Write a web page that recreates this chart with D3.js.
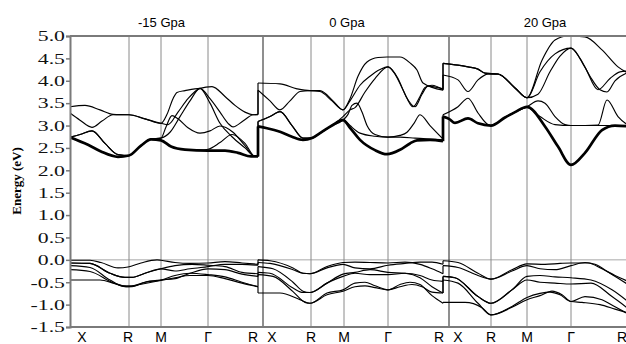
<!DOCTYPE html>
<html>
<head>
<meta charset="utf-8">
<script src="https://cdn.jsdelivr.net/npm/d3@7"></script>
<style>
  body { margin: 0; background: #fff; }
  svg { display: block; }
</style>
</head>
<body>
<svg width="626" height="344"></svg>
<script>
// panel titles and their centre along the k-path
const pressures = ['-15 Gpa', '0 Gpa', '20 Gpa'];
const titleK = [0.915, 2.77, 4.75];

const yTicks = [5.0, 4.5, 4.0, 3.5, 3.0, 2.5, 2.0, 1.5, 1.0, 0.5, 0.0, -0.5, -1.0, -1.5];

// high symmetry lines (k-path distance), panel separators drawn darker
const gridK = [0.59, 0.91, 1.38, 2.41, 2.74, 3.18, 4.21, 4.57, 5.01];
const boundaryK = [1.93, 3.79];
const kLabels = ['X', 'R', 'M', 'Γ', 'R', 'X', 'R', 'M', 'Γ', 'R', 'X', 'R', 'M', 'Γ', 'R'];
const kLabelPos = [0.12, 0.58, 0.91, 1.38, 1.83, 2.02, 2.41, 2.74, 3.18, 3.69, 3.88, 4.21, 4.57, 5.01, 5.52];

// conduction bands, [k, E(eV)]; first band of each panel is the thick lowest one
const cond15 = [
  [[0,2.74],[0.18,2.57],[0.31,2.42],[0.48,2.30],[0.59,2.33],[0.71,2.55],[0.81,2.69],[0.91,2.67],[1.01,2.53],[1.15,2.46],[1.38,2.44],[1.55,2.44],[1.68,2.39],[1.81,2.31],[1.88,2.31]],
  [[0,2.74],[0.10,2.80],[0.22,2.88],[0.35,2.60],[0.48,2.35],[0.59,2.33],[0.71,2.55],[0.81,2.70],[0.91,2.72],[1.00,2.85],[1.10,3.20],[1.20,3.55],[1.30,3.83],[1.40,3.60],[1.50,3.30],[1.58,3.05],[1.63,2.97],[1.73,3.10],[1.83,3.24],[1.88,3.25]],
  [[0,3.28],[0.10,3.12],[0.22,2.96],[0.32,3.10],[0.43,3.24],[0.59,3.24],[0.75,3.15],[0.91,3.05],[0.98,3.02],[1.08,3.30],[1.18,3.60],[1.30,3.83],[1.42,3.87],[1.55,3.65],[1.65,3.45],[1.75,3.30],[1.83,3.24],[1.88,3.24]],
  [[0,3.42],[0.15,3.45],[0.30,3.35],[0.43,3.25],[0.59,3.24],[0.75,3.15],[0.91,3.05],[0.97,3.25],[1.03,3.60],[1.07,3.74],[1.15,3.78],[1.30,3.83],[1.40,3.50],[1.50,3.05],[1.62,2.75],[1.75,2.50],[1.85,2.31],[1.88,2.31]],
  [[0,2.74],[0.10,2.80],[0.22,2.88],[0.35,2.60],[0.48,2.35],[0.59,2.33],[0.71,2.55],[0.81,2.70],[0.91,2.72],[0.96,2.97],[1.02,3.22],[1.08,3.15],[1.18,2.95],[1.30,2.83],[1.40,2.88],[1.50,2.99],[1.63,2.85],[1.75,2.55],[1.85,2.31],[1.88,2.31]],
  [[0,2.74],[0.18,2.57],[0.31,2.42],[0.48,2.30],[0.59,2.33],[0.71,2.55],[0.81,2.69],[0.91,2.67],[1.01,2.53],[1.15,2.46],[1.30,2.45],[1.38,2.47],[1.50,2.62],[1.62,2.80],[1.75,2.60],[1.85,2.31],[1.88,2.31]]
];
const cond0 = [
  [[1.88,2.98],[1.97,2.94],[2.10,2.86],[2.22,2.75],[2.33,2.68],[2.42,2.72],[2.50,2.83],[2.62,3.00],[2.73,3.12],[2.80,2.95],[2.90,2.68],[3.05,2.45],[3.17,2.36],[3.30,2.46],[3.40,2.60],[3.47,2.67],[3.60,2.68],[3.73,2.65]],
  [[1.88,3.09],[2.00,3.20],[2.10,3.31],[2.22,3.00],[2.33,2.72],[2.42,2.72],[2.50,2.83],[2.62,3.00],[2.73,3.14],[2.80,3.00],[2.90,2.83],[3.05,2.76],[3.18,2.74],[3.30,2.78],[3.37,2.85],[3.44,3.05],[3.50,3.24],[3.60,3.00],[3.73,2.70]],
  [[1.88,3.79],[2.00,3.55],[2.10,3.35],[2.20,3.55],[2.30,3.76],[2.40,3.78],[2.50,3.76],[2.62,3.55],[2.73,3.35],[2.80,3.55],[2.90,3.90],[3.00,4.10],[3.10,4.25],[3.18,4.31],[3.25,4.15],[3.33,3.80],[3.43,3.42],[3.50,3.65],[3.55,3.85],[3.62,3.90],[3.73,3.80]],
  [[1.88,3.95],[2.10,3.93],[2.27,3.82],[2.40,3.78],[2.50,3.78],[2.63,3.55],[2.73,3.35],[2.80,3.60],[2.88,4.10],[2.97,4.42],[3.08,4.52],[3.17,4.53],[3.30,4.53],[3.40,4.40],[3.47,4.24],[3.53,3.95],[3.73,3.79]],
  [[1.88,3.09],[2.00,3.20],[2.10,3.31],[2.22,3.00],[2.33,2.72],[2.42,2.72],[2.50,2.83],[2.62,3.00],[2.73,3.20],[2.80,3.35],[2.85,3.40],[2.95,3.75],[3.05,4.05],[3.18,4.31],[3.28,4.05],[3.36,3.65],[3.45,3.42],[3.52,3.70],[3.58,3.88],[3.73,3.82]],
  [[1.88,2.98],[1.97,2.94],[2.10,2.86],[2.22,2.75],[2.33,2.68],[2.42,2.72],[2.50,2.83],[2.62,3.00],[2.73,3.12],[2.78,3.25],[2.82,3.45],[2.87,3.50],[2.92,3.30],[2.97,3.00],[3.05,2.80],[3.18,2.74],[3.30,2.74],[3.45,2.72],[3.60,2.70],[3.73,2.68]]
];
const cond20 = [
  [[3.73,3.20],[3.79,3.15],[3.85,3.06],[3.98,3.16],[4.08,3.05],[4.21,3.00],[4.35,3.18],[4.45,3.30],[4.57,3.42],[4.75,2.98],[4.88,2.53],[5.01,2.12],[5.15,2.39],[5.32,2.90],[5.45,3.00],[5.60,2.98]],
  [[3.73,3.24],[3.88,3.42],[3.98,3.61],[4.08,3.28],[4.18,3.02],[4.21,3.00],[4.35,3.18],[4.45,3.30],[4.57,3.40],[4.70,3.20],[4.85,3.02],[5.01,3.00],[5.15,3.00],[5.28,3.01],[5.37,3.57],[5.48,3.20],[5.60,2.98]],
  [[3.73,4.13],[3.88,4.02],[3.98,3.76],[4.08,4.02],[4.18,4.15],[4.28,4.15],[4.45,3.84],[4.57,3.62],[4.70,4.20],[4.85,4.60],[5.01,4.73],[5.15,4.30],[5.28,3.80],[5.40,4.05],[5.50,4.20],[5.60,4.22]],
  [[3.73,4.39],[3.88,4.35],[3.98,4.31],[4.08,4.26],[4.15,4.17],[4.28,4.15],[4.45,3.84],[4.57,3.62],[4.72,4.46],[4.85,4.91],[4.98,5.00],[5.15,4.98],[5.32,4.69],[5.48,4.31],[5.60,4.15]],
  [[3.73,4.39],[3.88,4.35],[3.98,4.31],[4.08,4.26],[4.15,4.17],[4.28,4.15],[4.45,3.84],[4.57,3.62],[4.68,3.70],[4.80,4.20],[4.90,4.55],[5.01,4.73],[5.10,4.50],[5.20,4.10],[5.30,3.80],[5.37,3.75],[5.45,4.00],[5.60,4.20]],
  [[3.73,3.20],[3.79,3.15],[3.85,3.06],[3.98,3.16],[4.08,3.05],[4.21,3.00],[4.35,3.18],[4.45,3.30],[4.57,3.42],[4.68,3.55],[4.75,3.50],[4.85,3.20],[4.95,3.02],[5.01,3.00],[5.20,3.00],[5.35,3.00],[5.45,3.00],[5.60,2.98]]
];

// valence bands
const val15 = [
  [[0,-0.01],[0.20,-0.01],[0.31,-0.06],[0.48,-0.18],[0.58,-0.16],[0.71,-0.07],[0.87,0.00],[0.91,-0.01],[1.05,-0.06],[1.20,-0.08],[1.38,-0.07],[1.55,-0.04],[1.72,-0.07],[1.88,-0.10]],
  [[0,-0.07],[0.20,-0.08],[0.40,-0.30],[0.55,-0.39],[0.62,-0.39],[0.75,-0.30],[0.91,-0.20],[1.05,-0.13],[1.22,-0.10],[1.38,-0.12],[1.55,-0.15],[1.72,-0.28],[1.88,-0.31]],
  [[0,-0.13],[0.20,-0.17],[0.40,-0.45],[0.53,-0.58],[0.62,-0.58],[0.75,-0.50],[0.91,-0.45],[1.05,-0.35],[1.20,-0.30],[1.38,-0.33],[1.55,-0.38],[1.72,-0.50],[1.88,-0.60]],
  [[0,-0.22],[0.20,-0.26],[0.42,-0.50],[0.55,-0.60],[0.62,-0.60],[0.75,-0.50],[0.91,-0.45],[1.05,-0.42],[1.20,-0.30],[1.38,-0.20],[1.55,-0.22],[1.72,-0.32],[1.88,-0.37]],
  [[0,-0.45],[0.30,-0.45],[0.45,-0.53],[0.58,-0.60],[0.70,-0.55],[0.91,-0.46],[1.05,-0.40],[1.20,-0.35],[1.38,-0.35],[1.55,-0.42],[1.72,-0.52],[1.88,-0.60]],
  [[0,-0.07],[0.20,-0.08],[0.40,-0.30],[0.55,-0.39],[0.62,-0.39],[0.75,-0.30],[0.91,-0.20],[1.05,-0.25],[1.20,-0.20],[1.38,-0.15],[1.55,-0.10],[1.72,-0.10],[1.88,-0.12]]
];
const val0 = [
  [[1.88,0.00],[2.00,-0.02],[2.23,-0.18],[2.33,-0.30],[2.40,-0.31],[2.57,-0.15],[2.73,-0.06],[2.85,-0.05],[3.00,-0.06],[3.18,-0.07],[3.35,-0.05],[3.50,-0.10],[3.62,-0.20],[3.73,-0.31]],
  [[1.88,-0.06],[2.00,-0.08],[2.23,-0.22],[2.33,-0.30],[2.40,-0.31],[2.57,-0.18],[2.73,-0.10],[2.85,-0.18],[3.00,-0.20],[3.18,-0.12],[3.35,-0.08],[3.50,-0.05],[3.62,-0.05],[3.73,-0.10]],
  [[1.88,-0.15],[2.03,-0.20],[2.23,-0.50],[2.33,-0.70],[2.40,-0.73],[2.57,-0.52],[2.73,-0.32],[2.85,-0.28],[3.00,-0.22],[3.18,-0.28],[3.35,-0.30],[3.50,-0.40],[3.62,-0.60],[3.73,-0.74]],
  [[1.88,-0.28],[2.00,-0.30],[2.23,-0.63],[2.33,-0.73],[2.40,-0.73],[2.57,-0.52],[2.73,-0.37],[2.85,-0.30],[3.00,-0.33],[3.18,-0.33],[3.35,-0.30],[3.50,-0.35],[3.62,-0.45],[3.73,-0.48]],
  [[1.88,-0.33],[2.03,-0.37],[2.23,-0.71],[2.35,-0.95],[2.40,-0.97],[2.57,-0.74],[2.73,-0.67],[2.85,-0.52],[2.95,-0.50],[3.05,-0.58],[3.18,-0.67],[3.30,-0.55],[3.40,-0.50],[3.50,-0.55],[3.62,-0.80],[3.73,-0.97]],
  [[1.88,-0.74],[2.10,-0.74],[2.30,-0.89],[2.40,-0.97],[2.57,-0.78],[2.73,-0.70],[2.85,-0.60],[2.95,-0.58],[3.05,-0.62],[3.18,-0.67],[3.30,-0.60],[3.42,-0.55],[3.52,-0.60],[3.62,-0.72],[3.73,-0.74]]
];
const val20 = [
  [[3.73,-0.02],[3.88,-0.06],[4.08,-0.30],[4.21,-0.43],[4.42,-0.22],[4.57,-0.09],[4.75,-0.10],[4.90,-0.08],[5.01,-0.07],[5.18,-0.07],[5.32,-0.20],[5.45,-0.35],[5.60,-0.50]],
  [[3.73,-0.13],[3.88,-0.17],[4.08,-0.35],[4.21,-0.43],[4.42,-0.25],[4.57,-0.13],[4.70,-0.20],[4.85,-0.22],[5.01,-0.13],[5.15,-0.06],[5.25,-0.10],[5.40,-0.30],[5.60,-0.58]],
  [[3.73,-0.37],[3.85,-0.40],[4.08,-0.82],[4.21,-0.97],[4.42,-0.67],[4.57,-0.37],[4.70,-0.35],[4.85,-0.38],[5.01,-0.40],[5.21,-0.45],[5.42,-0.67],[5.60,-0.97]],
  [[3.73,-0.45],[3.88,-0.52],[4.08,-0.97],[4.21,-1.23],[4.42,-1.04],[4.57,-0.84],[4.70,-0.75],[4.80,-0.72],[4.90,-0.78],[5.01,-0.93],[5.15,-0.82],[5.32,-0.89],[5.45,-1.05],[5.60,-1.23]],
  [[3.73,-0.95],[3.95,-0.95],[4.12,-1.07],[4.21,-1.23],[4.42,-1.06],[4.57,-0.89],[4.70,-0.80],[4.82,-0.70],[4.92,-0.78],[5.01,-0.93],[5.12,-0.95],[5.30,-1.00],[5.45,-1.10],[5.60,-1.20]],
  [[3.73,-0.37],[3.85,-0.40],[4.08,-0.82],[4.21,-0.97],[4.42,-0.67],[4.57,-0.45],[4.70,-0.50],[4.85,-0.52],[5.01,-0.54],[5.21,-0.52],[5.42,-0.82],[5.60,-1.12]]
];

const condPanels = [cond15, cond0, cond20];
const valPanels = [val15, val0, val20];

const svg = d3.select('svg');
const x = d3.scaleLinear().domain([0, 5.6]).range([70, 630]);
const y = d3.scaleLinear().domain([-1.5, 5]).range([327, 36]);

svg.append('defs').append('clipPath').attr('id', 'plot')
  .append('rect').attr('x', 70).attr('y', 35).attr('width', 556).attr('height', 293);

// grid
svg.append('line')
  .attr('x1', 70).attr('x2', 626).attr('y1', y(0)).attr('y2', y(0))
  .attr('stroke', '#a8a8a8').attr('stroke-width', 1);
svg.selectAll('line.grid').data(gridK).join('line')
  .attr('class', 'grid')
  .attr('x1', d => x(d)).attr('x2', d => x(d))
  .attr('y1', y(5)).attr('y2', y(-1.5))
  .attr('stroke', '#8a8a8a').attr('stroke-width', 1);
svg.selectAll('line.sep').data(boundaryK).join('line')
  .attr('class', 'sep')
  .attr('x1', d => x(d)).attr('x2', d => x(d))
  .attr('y1', y(5)).attr('y2', y(-1.5))
  .attr('stroke', '#333').attr('stroke-width', 1.1);

// bands
const line = d3.line().x(d => x(d[0])).y(d => y(d[1])).curve(d3.curveMonotoneX);
const bands = svg.append('g').attr('clip-path', 'url(#plot)')
  .attr('fill', 'none').attr('stroke', '#000').attr('stroke-linejoin', 'round');

function drawPanels(panels, thickFirst) {
  panels.forEach(panel => {
    panel.forEach((b, i) => {
      bands.append('path').attr('d', line(b))
        .attr('stroke-width', thickFirst && i === 0 ? 2.7 : 1.15);
    });
  });
  // vertical jumps where one panel hands over to the next
  for (let p = 0; p < panels.length - 1; p++) {
    const a = panels[p], b = panels[p + 1];
    const k = a[0][a[0].length - 1][0];
    let start = 0;
    if (thickFirst) {
      bands.append('line')
        .attr('x1', x(k)).attr('x2', x(k))
        .attr('y1', y(a[0][a[0].length - 1][1])).attr('y2', y(b[0][0][1]))
        .attr('stroke-width', 2.7);
      start = 1;
    }
    const ends = a.slice(start).map(d => d[d.length - 1][1]).sort(d3.ascending);
    const starts = b.slice(start).map(d => d[0][1]).sort(d3.ascending);
    ends.forEach((e, i) => {
      bands.append('line')
        .attr('x1', x(k)).attr('x2', x(k))
        .attr('y1', y(e)).attr('y2', y(starts[i]))
        .attr('stroke-width', 1.15);
    });
  }
}
drawPanels(condPanels, true);
drawPanels(valPanels, false);

// frame
svg.append('line').attr('x1', 70).attr('x2', 626).attr('y1', 36).attr('y2', 36)
  .attr('stroke', '#7a7a7a').attr('stroke-width', 2);
svg.append('line').attr('x1', 70).attr('x2', 626).attr('y1', 327).attr('y2', 327)
  .attr('stroke', '#7a7a7a').attr('stroke-width', 2);

const yAxis = svg.append('g').attr('transform', 'translate(70,0)')
  .call(d3.axisLeft(y).tickValues(yTicks).tickSize(4).tickFormat(d => d.toFixed(1)));
yAxis.select('.domain').attr('stroke', '#7a7a7a').attr('stroke-width', 2);
yAxis.selectAll('.tick line').attr('stroke', '#7a7a7a').attr('stroke-width', 1.5);
yAxis.selectAll('.tick text')
  .attr('x', -3.5)
  .attr('transform', 'scale(1.45,1)')
  .attr('fill', '#111')
  .style('font-family', '"Liberation Serif", "Times New Roman", serif')
  .style('font-size', '15px');

svg.append('text')
  .attr('transform', 'translate(21,181) rotate(-90)')
  .attr('text-anchor', 'middle')
  .style('font-family', '"Liberation Serif", "Times New Roman", serif')
  .style('font-weight', 'bold')
  .style('font-size', '13px')
  .text('Energy (eV)');

svg.selectAll('text.kl').data(kLabels).join('text')
  .attr('class', 'kl')
  .attr('x', (d, i) => x(kLabelPos[i]))
  .attr('y', 342)
  .attr('text-anchor', 'middle')
  .style('font-family', '"Liberation Sans", Arial, sans-serif')
  .style('font-size', '14px')
  .text(d => d);

svg.selectAll('text.title').data(pressures).join('text')
  .attr('class', 'title')
  .attr('x', (d, i) => x(titleK[i]))
  .attr('y', 27)
  .attr('text-anchor', 'middle')
  .style('font-family', '"Liberation Sans", Arial, sans-serif')
  .style('font-size', '13px')
  .text(d => d);
</script>
</body>
</html>
